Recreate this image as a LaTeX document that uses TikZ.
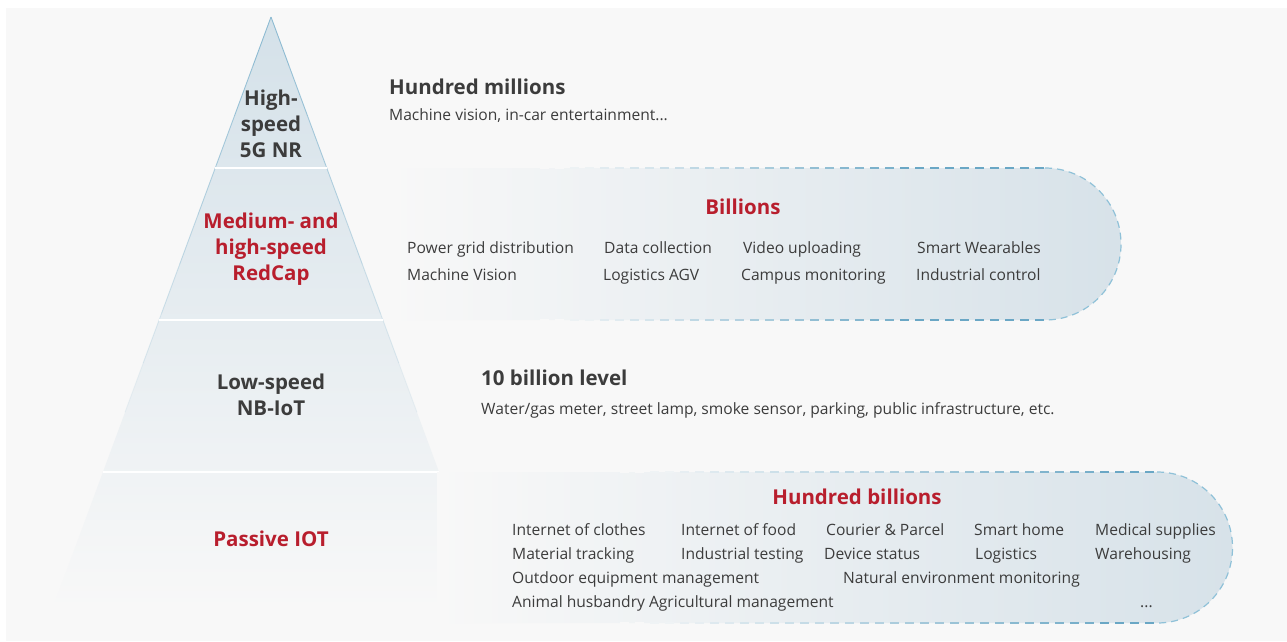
\documentclass[tikz,border=0pt]{standalone}
\usepackage{fontspec}
\setmainfont{Open Sans}
\usetikzlibrary{calc}
\definecolor{bg}{HTML}{F8F8F8}
\definecolor{txt}{HTML}{3C3C3C}
\definecolor{hwred}{HTML}{B81E2D}
\definecolor{pyrtop}{HTML}{D4E1E9}
\definecolor{pyredge}{HTML}{8DBBD2}
\definecolor{pillfill}{HTML}{D7E2E9}
\definecolor{pilledge}{HTML}{6AA7C5}
\definecolor{arcedge}{HTML}{8FC1D8}
\tikzset{
  item/.style={anchor=base west, yshift=-5.5pt, text=txt, inner sep=0pt, font=\fontsize{15.6}{18}\selectfont},
  head/.style={anchor=base west, yshift=-7.5pt, text=txt, inner sep=0pt, font=\fontsize{20.5}{24}\selectfont\bfseries},
  redhead/.style={text=hwred, inner sep=0pt, font=\fontsize{20.5}{24}\selectfont\bfseries},
  level/.style={align=center, text=txt, inner sep=0pt, font=\fontsize{20.5}{26}\selectfont\bfseries},
  dashline/.style={line width=1.4pt, dash pattern=on 9pt off 6pt},
  arcline/.style={arcedge, line width=1.2pt, dash pattern=on 7pt off 5pt},
}
\begin{document}
\begin{tikzpicture}[x=1pt,y=-1pt]
\useasboundingbox (0,0) rectangle (1287,641);
\fill[bg] (6,8) rectangle (1287,641);
% pyramid
\coordinate (apex) at (271,17);
\coordinate (bl) at (52,610);
\coordinate (br) at (490,610);
\shade[top color=pyrtop, bottom color=bg] (apex) -- (bl) -- (br) -- cycle;
\foreach \i in {0,...,7} % edit here for the fading edges
{\draw[pyredge, line width=0.9pt, opacity={1-\i/8}] ($(apex)!{\i/12}!(bl)$) -- ($(apex)!{(\i+1)/12}!(bl)$);
 \draw[pyredge, line width=0.9pt, opacity={1-\i/8}] ($(apex)!{\i/12}!(br)$) -- ($(apex)!{(\i+1)/12}!(br)$);}
\foreach \y in {168,320,472} % edit here for the white separators
\draw[white, line width=2pt] ({271-0.369*(\y-17)},\y) -- ({271+0.369*(\y-17)},\y);
% pill for billions
\shade[left color=bg, right color=pillfill] (390,168) -- (1045,168) arc(90:-90:76pt) -- (390,320) -- cycle;
\foreach \i [evaluate=\i as \p using int(\i*8)] in {0,...,11}
{\draw[dashline, color=pilledge!\p!bg] (540+\i*30,168) -- ++(30,0);
 \draw[dashline, color=pilledge!\p!bg] (540+\i*30,320) -- ++(30,0);}
\draw[dashline, pilledge] (900,168) -- (1045,168);
\draw[dashline, pilledge] (900,320) -- (1045,320);
\draw[arcline] (1045,168) arc(90:-90:76pt);
% pill for hundred billions
\shade[left color=bg, right color=pillfill] (437,472) -- (1157,472) arc(90:-90:75.5pt) -- (437,623) -- cycle;
\foreach \i [evaluate=\i as \p using int(\i*6)] in {0,...,15}
{\draw[dashline, color=pilledge!\p!bg] (620+\i*30,472) -- ++(30,0);
 \draw[dashline, color=pilledge!\p!bg] (620+\i*30,623) -- ++(30,0);}
\draw[dashline, pilledge] (1100,472) -- (1157,472);
\draw[dashline, pilledge] (1100,623) -- (1157,623);
\draw[arcline] (1157,472) arc(90:-90:75.5pt);
% pyramid levels
\node[level] (nr) at (271,124) {High-\\speed\\5G NR};
\node[level, text=hwred] (redcap) at (271,249) {Medium- and\\high-speed\\RedCap};
\node[level] (nbiot) at (271,395) {Low-speed\\NB-IoT};
\node[level, text=hwred] (passive) at (271,539) {Passive IOT};
% right side texts
\node[head] (hm) at (389,87) {Hundred millions};
\node[item] (hmtxt) at (389,115) {Machine vision, in-car entertainment...};
\node[redhead] (bil) at (743,207) {Billions};
\foreach \x/\y/\t [count=\i] in {407/248/Power grid distribution, 604/248/Data collection,
  743/248/Video uploading, 917/248/Smart Wearables, 407/275/Machine Vision,
  603/275/Logistics AGV, 741/275/Campus monitoring, 916/275/Industrial control}
\node[item] (bil\i) at (\x,\y) {\t};
\node[head] (tbl) at (481,378) {10 billion level};
\node[item] (tbltxt) at (481,409) {Water/gas meter, street lamp, smoke sensor, parking, public infrastructure, etc.};
\node[redhead] (hb) at (857,497) {Hundred billions};
\foreach \x/\y/\t [count=\i] in {512/530/Internet of clothes, 681/530/Internet of food,
  826/530/Courier \& Parcel, 974/530/Smart home, 1095/530/Medical supplies,
  512/554/Material tracking, 681/554/Industrial testing, 824/554/Device status,
  975/554/Logistics, 1095/554/Warehousing, 512/578/Outdoor equipment management,
  843/578/Natural environment monitoring, 512/602/Animal husbandry Agricultural management}
\node[item] (hb\i) at (\x,\y) {\t};
\node[item] (hbdots) at (1140,602) {...};
\end{tikzpicture}
\end{document}
